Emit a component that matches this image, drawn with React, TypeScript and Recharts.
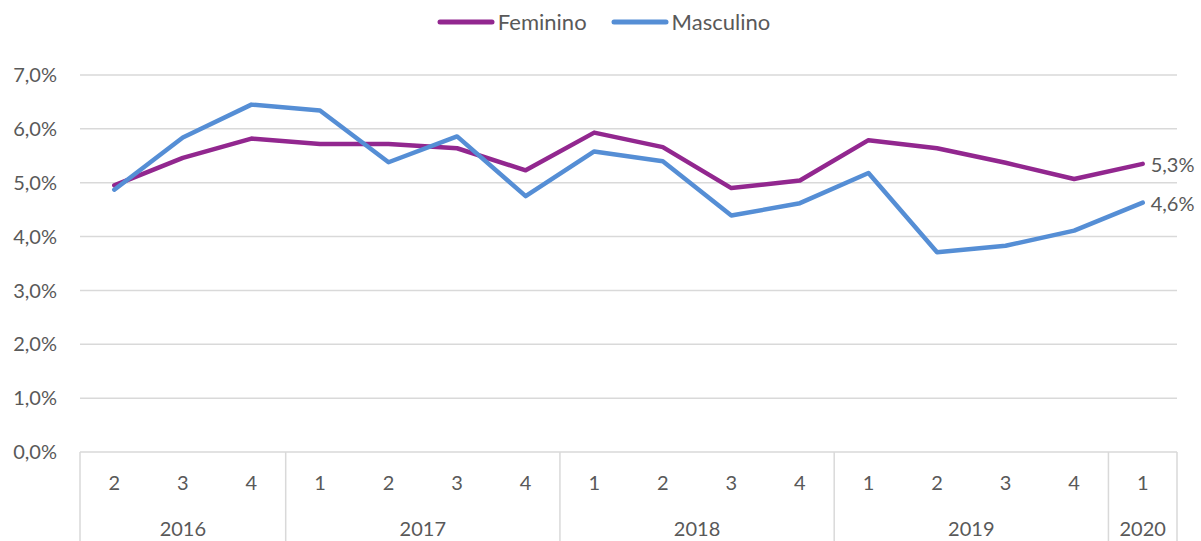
import React from 'react';
import { LineChart, Line, XAxis, YAxis, CartesianGrid, Legend, LabelList } from 'recharts';

const quarters = ['2', '3', '4', '1', '2', '3', '4', '1', '2', '3', '4', '1', '2', '3', '4', '1'];
const years = ['2016', '2016', '2016', '2017', '2017', '2017', '2017', '2018', '2018', '2018', '2018', '2019', '2019', '2019', '2019', '2020'];
const feminino = [0.0495, 0.0546, 0.0582, 0.0572, 0.0572, 0.0564, 0.0523, 0.0593, 0.0566, 0.049, 0.0504, 0.0579, 0.0564, 0.0537, 0.0507, 0.0535];
const masculino = [0.0487, 0.0584, 0.0645, 0.0634, 0.0538, 0.0586, 0.0475, 0.0558, 0.054, 0.0439, 0.0462, 0.0518, 0.0371, 0.0383, 0.0411, 0.0463];
const yTicks = [0, 0.01, 0.02, 0.03, 0.04, 0.05, 0.06, 0.07];

const data = quarters.map((q, i) => ({
  key: `${years[i]}-${q}`,
  Feminino: feminino[i],
  Masculino: masculino[i],
}));

const W = 1201;
const H = 541;
const M = { top: 75, right: 24, left: 0, bottom: 0 };
const Y_AXIS_W = 80;
const X_AXIS_H = 89;
const BAND = (W - M.left - M.right - Y_AXIS_W) / quarters.length;
const TEXT = '#595959';
const GRID = '#d9d9d9';
const FONT = 20;

const pct = (v: number) => (v * 100).toFixed(1).replace('.', ',') + '%';

function QuarterYearTick(props: any) {
  const { x, y, index } = props;
  const parts: React.ReactNode[] = [];
  parts.push(
    <text key="q" x={x} y={y + 30} textAnchor="middle" dominantBaseline="central" fill={TEXT} fontSize={FONT}>
      {quarters[index]}
    </text>
  );
  const isFirst = index === 0 || years[index] !== years[index - 1];
  if (isFirst) {
    let n = 0;
    while (index + n < years.length && years[index + n] === years[index]) n++;
    const left = x - BAND / 2;
    parts.push(<line key="l" x1={left} x2={left} y1={y} y2={y + X_AXIS_H} stroke={GRID} strokeWidth={1.5} />);
    parts.push(
      <text key="y" x={left + (n * BAND) / 2} y={y + 76} textAnchor="middle" dominantBaseline="central" fill={TEXT} fontSize={FONT}>
        {years[index]}
      </text>
    );
  }
  if (index === years.length - 1) {
    const right = x + BAND / 2;
    parts.push(<line key="r" x1={right} x2={right} y1={y} y2={y + X_AXIS_H} stroke={GRID} strokeWidth={1.5} />);
  }
  return <g>{parts}</g>;
}

function EndLabel(props: any) {
  const { x, y, value, index } = props;
  if (index !== quarters.length - 1) return null;
  return (
    <text x={x + 8} y={y} dominantBaseline="central" fill={TEXT} fontSize={FONT}>
      {pct(value)}
    </text>
  );
}

function LegendContent(props: any) {
  const { payload } = props;
  return (
    <div style={{ display: 'flex', justifyContent: 'center', paddingLeft: 6 }}>
      {(payload || []).map((p: any, i: number) => (
        <div key={i} style={{ display: 'flex', alignItems: 'center', marginRight: i === 0 ? 24 : 0 }}>
          <svg width={58} height={10} style={{ marginRight: 3 }}>
            <line x1={3} x2={55} y1={5} y2={5} stroke={p.color} strokeWidth={5} strokeLinecap="round" />
          </svg>
          <span style={{ color: TEXT, fontSize: 22, lineHeight: '28px' }}>{p.value}</span>
        </div>
      ))}
    </div>
  );
}

export default function App() {
  return (
    <div style={{ position: 'absolute', left: 0, top: 0, fontFamily: 'Lato, sans-serif', background: '#fff' }}>
      <LineChart width={W} height={H} data={data} margin={M}>
        <CartesianGrid vertical={false} stroke={GRID} strokeWidth={1.5} />
        <XAxis
          dataKey="key"
          interval={0}
          axisLine={false}
          tickLine={false}
          tickSize={0}
          tickMargin={0}
          height={X_AXIS_H}
          padding={{ left: BAND / 2, right: BAND / 2 }}
          tick={<QuarterYearTick />}
        />
        <YAxis
          domain={[0, 0.07]}
          ticks={yTicks}
          tickFormatter={pct}
          axisLine={false}
          tickLine={false}
          tickSize={0}
          tickMargin={23}
          width={Y_AXIS_W}
          tick={{ fill: TEXT, fontSize: FONT }}
        />
        <Legend
          verticalAlign="middle"
          layout="horizontal"
          content={<LegendContent />}
          wrapperStyle={{ top: 8, left: 0, width: W, height: 28 }}
        />
        <Line
          type="linear"
          dataKey="Feminino"
          stroke="#92278f"
          strokeWidth={4.5}
          dot={false}
          strokeLinecap="round"
          strokeLinejoin="round"
          isAnimationActive={false}
        >
          <LabelList dataKey="Feminino" content={<EndLabel />} />
        </Line>
        <Line
          type="linear"
          dataKey="Masculino"
          stroke="#558ed5"
          strokeWidth={4.5}
          dot={false}
          strokeLinecap="round"
          strokeLinejoin="round"
          isAnimationActive={false}
        >
          <LabelList dataKey="Masculino" content={<EndLabel />} />
        </Line>
      </LineChart>
    </div>
  );
}
